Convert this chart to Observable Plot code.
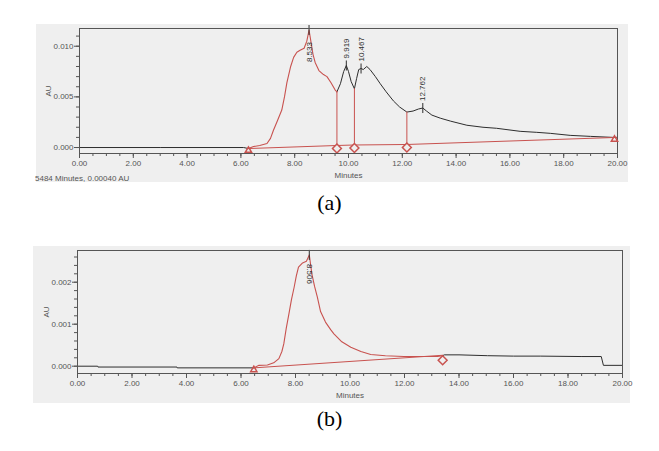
<!DOCTYPE html>
<html>
<head>
<meta charset="utf-8">
<script src="https://cdn.jsdelivr.net/npm/d3@7"></script>
<script src="https://cdn.jsdelivr.net/npm/@observablehq/plot@0.6"></script>
<style>
  html, body { margin: 0; padding: 0; background: #fff; width: 659px; height: 451px; overflow: hidden; }
  .panel { position: absolute; }
  .status { position: absolute; font: 8px "Liberation Sans", Arial, sans-serif; color: #555; white-space: nowrap; }
  .cap { position: absolute; left: 0; width: 659px; text-align: center; font: 22px/22px "Liberation Serif", "Times New Roman", serif; color: #000; }
</style>
</head>
<body>
<div id="pa" class="panel" style="left:36px; top:24px;"></div>
<div class="status" style="left:35px; top:174px;">5484 Minutes, 0.00040 AU</div>
<div class="cap" style="top:192px;">(a)</div>
<div id="pb" class="panel" style="left:33px; top:246px;"></div>
<div class="cap" style="top:408px;">(b)</div>
<script>
// ---------- Data: chromatogram (a) ----------
const timeA = [0, 3.0, 6.1, 6.28, 6.47, 6.7, 6.97, 7.1, 7.21, 7.35, 7.52, 7.62, 7.71, 7.85, 7.96, 8.08, 8.2, 8.35, 8.45, 8.533, 8.6, 8.68, 8.76, 8.9, 9.07, 9.2, 9.35, 9.5, 9.57, 9.7, 9.82, 9.919, 10.0, 10.1, 10.22, 10.3, 10.38, 10.467, 10.55, 10.68, 10.8, 11.0, 11.18, 11.4, 11.67, 11.9, 12.17, 12.4, 12.6, 12.762, 12.9, 13.1, 13.41, 13.8, 14.4, 15.0, 15.5, 16.38, 17.0, 17.5, 18.24, 19.0, 19.85, 20];
const auA   = [0, 0, 0, -0.0001, 0.0001, 0.0002, 0.0004, 0.0009, 0.0017, 0.0026, 0.0037, 0.0050, 0.0064, 0.0080, 0.0089, 0.0094, 0.0096, 0.0098, 0.0105, 0.0116, 0.0105, 0.0092, 0.0084, 0.0076, 0.0072, 0.0070, 0.0064, 0.0057, 0.0055, 0.0063, 0.0075, 0.0081, 0.0075, 0.0065, 0.0058, 0.0068, 0.0077, 0.0078, 0.0077, 0.0080, 0.0077, 0.0070, 0.0063, 0.0055, 0.0046, 0.0040, 0.0035, 0.0036, 0.0038, 0.0039, 0.0036, 0.0032, 0.0029, 0.0026, 0.0022, 0.0020, 0.0019, 0.0016, 0.0015, 0.0014, 0.0012, 0.0011, 0.0010, 0.0010];
const baseTimeA = [6.28, 9.57, 10.22, 12.17, 20];
const baseAuA   = [-0.0001, 0.0002, 0.00025, 0.0003, 0.0010];
const dropTimeA = [9.57, 10.22, 12.17];
const peakTimeA = [8.533, 9.919, 10.467, 12.762];
const peakLabelA = ["8.533", "9.919", "10.467", "12.762"];
const yTicksA = [0, 0.005, 0.010];
const yMinorA = [0, 0.001, 0.002, 0.003, 0.004, 0.005, 0.006, 0.007, 0.008, 0.009, 0.010, 0.011];

// ---------- Data: chromatogram (b) ----------
const timeB = [0, 0.74, 0.75, 3.65, 3.66, 6.47, 6.66, 6.97, 7.2, 7.39, 7.5, 7.57, 7.66, 7.76, 7.85, 7.95, 8.03, 8.11, 8.26, 8.4, 8.506, 8.6, 8.7, 8.8, 8.92, 9.1, 9.29, 9.41, 9.7, 10.03, 10.4, 10.76, 11.3, 11.98, 12.6, 13.21, 13.4, 13.46, 14.0, 15.05, 16.0, 17.0, 18.48, 19.22, 19.3, 20];
const auB   = [0, 0, -0.00002, -0.00002, -0.00004, -0.00004, 0.00002, 0.00003, 0.00008, 0.00018, 0.00035, 0.00053, 0.0009, 0.00125, 0.00158, 0.00188, 0.00215, 0.00236, 0.00246, 0.0025, 0.00265, 0.0022, 0.0019, 0.00165, 0.0013, 0.00105, 0.00087, 0.00077, 0.00058, 0.00045, 0.00035, 0.00028, 0.00025, 0.00023, 0.00023, 0.00023, 0.00025, 0.00027, 0.00027, 0.00025, 0.00024, 0.00024, 0.00023, 0.00023, 0.00002, 0.00002];
const baseTimeB = [6.47, 13.4];
const baseAuB   = [-0.00004, 0.00026];
const peakTimeB = [8.506];
const peakLabelB = ["8.506"];
const yTicksB = [0, 0.001, 0.002];
const yMinorB = [0, 0.0002, 0.0004, 0.0006, 0.0008, 0.001, 0.0012, 0.0014, 0.0016, 0.0018, 0.002, 0.0022, 0.0024, 0.0026];

const xTicks = [0, 2, 4, 6, 8, 10, 12, 14, 16, 18, 20];
const xMinor = d3.range(0, 20.01, 0.5);

// ---------- helpers ----------
const RED = "#c8524f", INK = "#2e2e2e", FRAME = "#555", BG = "#efefef";
const rows = (t, v) => t.map((x, i) => ({t: x, v: v[i]}));
const valueAt = (t, v, x) => v[t.indexOf(x)];
const vtick = {draw(ctx, size) { const r = Math.sqrt(size / Math.PI); ctx.moveTo(0, -r); ctx.lineTo(0, r); }};

function panel({times, values, baseT, baseV, drops, peaks, labels, yDomain, yTicks, yMinor, width, height, margins, labelRotate, firstInside}) {
  const data = rows(times, values);
  const start = baseT[0], end = baseT[baseT.length - 1];
  const firstDrop = drops.length ? drops[0] : end;
  const pre = data.filter(d => d.t <= start);
  const red = data.filter(d => d.t >= start && d.t <= firstDrop);
  const post = data.filter(d => d.t >= firstDrop);
  const base = rows(baseT, baseV);
  const dropRows = drops.map(x => ({t: x, lo: valueAt(baseT, baseV, x), hi: valueAt(times, values, x)}));
  const peakRows = peaks.map((x, i) => ({t: x, v: valueAt(times, values, x), label: labels[i], i}));
  const marks = [
    Plot.axisY(yMinor, {tickSize: 3, tickFormat: () => "", label: null, stroke: FRAME}),
    Plot.axisY(yTicks, {tickSize: 5, tickPadding: 1, tickFormat: d => d.toFixed(3), label: "AU", labelAnchor: "center", labelOffset: 34, labelArrow: "none", stroke: FRAME}),
    Plot.axisX(xMinor, {tickSize: 3, tickFormat: () => "", label: null, stroke: FRAME}),
    Plot.axisX(xTicks, {tickSize: 5, tickPadding: 2, tickFormat: d => d.toFixed(2), label: "Minutes", labelAnchor: "center", labelOffset: 24, labelArrow: "none", stroke: FRAME}),
    Plot.line(pre, {x: "t", y: "v", stroke: INK, strokeWidth: 1}),
    Plot.line(post, {x: "t", y: "v", stroke: INK, strokeWidth: 1}),
    Plot.line(base, {x: "t", y: "v", stroke: RED, strokeWidth: 1}),
    Plot.line(red, {x: "t", y: "v", stroke: RED, strokeWidth: 1.1}),
    Plot.ruleX(dropRows, {x: "t", y1: "lo", y2: "hi", stroke: RED, strokeWidth: 1}),
    Plot.dot(dropRows, {x: "t", y: "lo", symbol: "diamond2", r: 4, stroke: RED, fill: BG, dy: 3}),
    Plot.dot([base[0]], {x: "t", y: "v", symbol: "triangle2", r: 3, stroke: RED, fill: "none", dy: 2}),
    Plot.dot(peakRows, {x: "t", y: "v", symbol: vtick, r: 5, stroke: INK, fill: "none", strokeWidth: 1}),
    Plot.frame({stroke: FRAME})
  ];
  if (drops.length) {
    marks.push(Plot.dot([base[base.length - 1]], {x: "t", y: "v", symbol: "triangle2", r: 3, stroke: RED, fill: "none", dx: -3, dy: 2}));
  } else {
    marks.push(Plot.dot([base[base.length - 1]], {x: "t", y: "v", symbol: "diamond2", r: 4, stroke: RED, fill: BG, dy: 5}));
  }
  if (labelRotate === 90) {
    marks.push(Plot.text(peakRows, {x: "t", y: "v", text: "label", rotate: 90, textAnchor: "start", lineAnchor: "middle", dy: 9, fill: INK, fontSize: 8}));
  } else {
    marks.push(Plot.text(peakRows.filter(d => d.i === 0 && firstInside), {x: "t", y: "v", text: "label", rotate: -90, textAnchor: "end", lineAnchor: "middle", dy: 12, fill: INK, fontSize: 8}));
    marks.push(Plot.text(peakRows.filter(d => !(d.i === 0 && firstInside)), {x: "t", y: "v", text: "label", rotate: -90, textAnchor: "start", lineAnchor: "middle", dy: -7, fill: INK, fontSize: 8}));
  }
  return Plot.plot({
    width, height,
    marginLeft: margins[0], marginRight: margins[1], marginTop: margins[2], marginBottom: margins[3],
    style: {background: BG, fontFamily: "'Liberation Sans', Arial, sans-serif", fontSize: "8px", color: "#555", overflow: "visible"},
    x: {domain: [0, 20]},
    y: {domain: yDomain},
    marks
  });
}

document.getElementById("pa").append(panel({
  times: timeA, values: auA, baseT: baseTimeA, baseV: baseAuA, drops: dropTimeA,
  peaks: peakTimeA, labels: peakLabelA, yDomain: [-0.00059, 0.01175], yTicks: yTicksA, yMinor: yMinorA,
  width: 592, height: 158, margins: [43, 11, 4, 29], labelRotate: -90, firstInside: true
}));
document.getElementById("pb").append(panel({
  times: timeB, values: auB, baseT: baseTimeB, baseV: baseAuB, drops: [],
  peaks: peakTimeB, labels: peakLabelB, yDomain: [-0.000174, 0.002755], yTicks: yTicksB, yMinor: yMinorB,
  width: 597, height: 157, margins: [44, 8, 4, 30], labelRotate: 90, firstInside: false
}));
</script>
</body>
</html>
